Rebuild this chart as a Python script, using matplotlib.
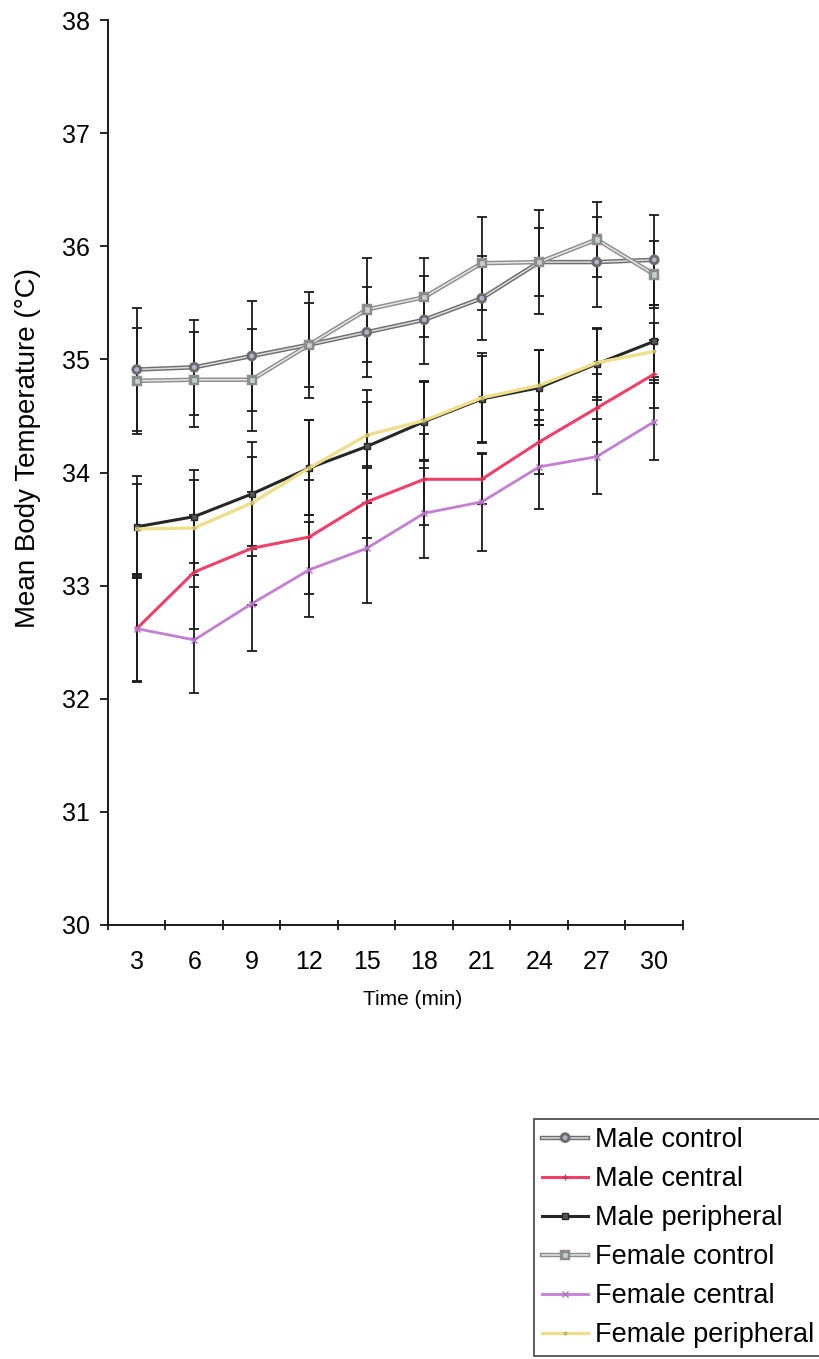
import matplotlib
matplotlib.use("Agg")
import matplotlib.pyplot as plt
import matplotlib.patheffects as pe
import numpy as np

plt.rcParams['font.family'] = ['Liberation Sans', 'DejaVu Sans']

times = ["3", "6", "9", "12", "15", "18", "21", "24", "27", "30"]

male_control = [34.91, 34.93, 35.03, 35.13, 35.24, 35.35, 35.54, 35.86, 35.86, 35.88]
male_control_err = [0.54, 0.42, 0.49, 0.37, 0.40, 0.39, 0.37, 0.30, 0.40, 0.40]

male_central = [32.62, 33.12, 33.33, 33.43, 33.74, 33.94, 33.94, 34.27, 34.57, 34.87]
male_central_err = [0.47, 0.50, 0.50, 0.50, 0.32, 0.40, 0.22, 0.28, 0.30, 0.30]

male_peripheral = [33.52, 33.61, 33.81, 34.04, 34.23, 34.45, 34.65, 34.75, 34.96, 35.16]
male_peripheral_err = [0.45, 0.41, 0.46, 0.42, 0.50, 0.35, 0.38, 0.33, 0.32, 0.32]

female_control = [34.81, 34.82, 34.82, 35.13, 35.44, 35.55, 35.85, 35.86, 36.06, 35.75]
female_control_err = [0.47, 0.42, 0.45, 0.47, 0.46, 0.35, 0.41, 0.46, 0.33, 0.30]

female_central = [32.62, 32.52, 32.84, 33.14, 33.33, 33.64, 33.74, 34.05, 34.14, 34.45]
female_central_err = [0.46, 0.47, 0.42, 0.42, 0.48, 0.40, 0.43, 0.37, 0.33, 0.34]

female_peripheral = [33.50, 33.51, 33.73, 34.04, 34.33, 34.46, 34.66, 34.77, 34.97, 35.07]
female_peripheral_err = [0.40, 0.42, 0.41, 0.42, 0.29, 0.35, 0.40, 0.31, 0.30, 0.25]

labels = ["Male control", "Male central", "Male peripheral",
          "Female control", "Female central", "Female peripheral"]

fig = plt.figure(figsize=(8.2, 13.59), dpi=100)
ax = fig.add_axes([108/820, 1-925/1359, (683-108)/820, (925-20)/1359])

x = np.arange(len(times))

series = [
    (male_control, male_control_err, dict(color='#dcdcdc', lw=1.1, marker='o', ms=4.5,
        mfc='#b4b4cc', mec='#6a6a6a',
        path_effects=[pe.withStroke(linewidth=3.2, foreground='#6e6e6e')])),
    (male_central, male_central_err, dict(color='#f0406a', lw=2.2, marker='+', ms=5, mec='#d03050')),
    (male_peripheral, male_peripheral_err, dict(color='#262626', lw=2.2, marker='s', ms=4.5,
        mfc='#555555', mec='#262626')),
    (female_control, female_control_err, dict(color='#e6e6e6', lw=1.1, marker='s', ms=4.5,
        mfc='#c4d4cc', mec='#8a8a8a',
        path_effects=[pe.withStroke(linewidth=3.2, foreground='#8e8e8e')])),
    (female_central, female_central_err, dict(color='#c47fd2', lw=2.0, marker='x', ms=4.5, mec='#b070c0')),
    (female_peripheral, female_peripheral_err, dict(color='#ece08c', lw=2.4, marker='.', ms=3.5, mec='#b8b060')),
]

handles = []
for (vals, errs, style), lab in zip(series, labels):
    ax.errorbar(x, vals, yerr=errs, fmt='none', ecolor='#1a1a1a', elinewidth=1.3,
                capsize=3.5, capthick=1.3, zorder=2)
    h, = ax.plot(x, vals, label=lab, zorder=3, **style)
    handles.append(h)

ax.set_xlim(-0.5, 9.5)
ax.set_ylim(30, 38)
ax.set_yticks(np.arange(30, 39, 1))
ax.set_xticks(x)
ax.set_xticklabels(times)
ax.set_xticks(np.arange(-0.5, 10, 1), minor=True)
ax.tick_params(axis='x', which='major', length=0, pad=18, labelsize=18)
ax.tick_params(axis='x', which='minor', length=7, direction='inout', width=1.2)
ax.tick_params(axis='y', which='major', length=6, direction='out', width=1.2, pad=7, labelsize=18)

for s in ['top', 'right']:
    ax.spines[s].set_visible(False)
for s in ['left', 'bottom']:
    ax.spines[s].set_linewidth(1.4)
    ax.spines[s].set_color('#1a1a1a')

ax.set_xlabel("Time (min)", fontsize=15)
ax.xaxis.set_label_coords(0.53, -0.072)
ax.set_ylabel("Mean Body Temperature (°C)", fontsize=20)
ax.yaxis.set_label_coords(-0.117, 0.527)

leg = fig.legend(handles=handles, labels=labels, loc='upper left',
                 bbox_to_anchor=(534/820, 1-1119/1359), fontsize=19.5,
                 frameon=True, fancybox=False, edgecolor='#111111',
                 borderpad=0.3, labelspacing=0.48, handlelength=1.7,
                 handletextpad=0.25, borderaxespad=0)
leg.get_frame().set_linewidth(1.2)

fig.savefig("out.png", dpi=100)
